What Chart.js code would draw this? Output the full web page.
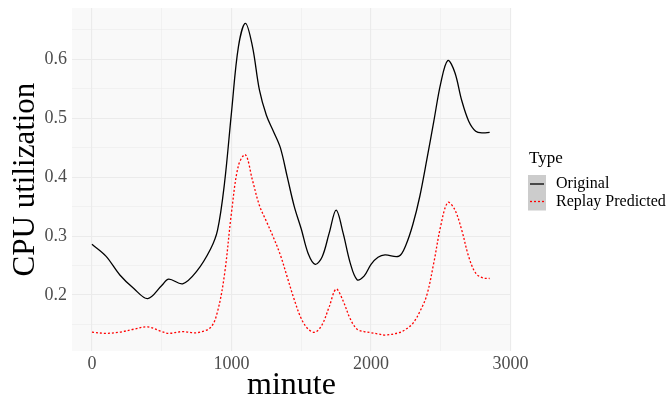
<!DOCTYPE html>
<html>
<head>
<meta charset="utf-8">
<script src="https://cdn.jsdelivr.net/npm/chart.js@4"></script>
<style>
  html, body { margin: 0; padding: 0; background: #fff; }
  #wrap { width: 670px; height: 400px; position: relative; }
</style>
</head>
<body>
<div id="wrap"><canvas id="cpu"></canvas></div>
<script>
const minutes = [0, 100, 200, 300, 400, 500, 550, 650, 750, 850, 900, 950, 1000, 1050, 1100, 1150, 1200, 1250, 1300, 1350, 1400, 1450, 1500, 1550, 1600, 1650, 1700, 1750, 1800, 1850, 1900, 1950, 2000, 2050, 2100, 2200, 2250, 2300, 2350, 2400, 2450, 2500, 2550, 2600, 2650, 2700, 2750, 2800, 2850];
const original = [0.286, 0.266, 0.234, 0.211, 0.194, 0.216, 0.227, 0.219, 0.240, 0.278, 0.310, 0.390, 0.510, 0.622, 0.661, 0.622, 0.548, 0.505, 0.478, 0.450, 0.400, 0.350, 0.312, 0.270, 0.252, 0.265, 0.305, 0.344, 0.305, 0.255, 0.226, 0.232, 0.252, 0.264, 0.268, 0.266, 0.285, 0.320, 0.368, 0.430, 0.495, 0.560, 0.598, 0.578, 0.530, 0.495, 0.478, 0.475, 0.476];
const replayPredicted = [0.137, 0.135, 0.137, 0.142, 0.146, 0.138, 0.135, 0.138, 0.136, 0.145, 0.172, 0.235, 0.340, 0.420, 0.438, 0.395, 0.352, 0.325, 0.298, 0.268, 0.230, 0.192, 0.160, 0.142, 0.137, 0.150, 0.180, 0.210, 0.190, 0.160, 0.142, 0.138, 0.136, 0.134, 0.132, 0.136, 0.142, 0.152, 0.172, 0.200, 0.255, 0.318, 0.357, 0.345, 0.310, 0.265, 0.237, 0.229, 0.228];
const xTicks = [0, 500, 1000, 1500, 2000, 2500, 3000];
const yTicks = [0.15, 0.2, 0.25, 0.3, 0.35, 0.4, 0.45, 0.5, 0.55, 0.6, 0.65];
const seriesNames = ['Original', 'Replay Predicted'];

const SERIF = '"Liberation Serif", "DejaVu Serif", serif';
const isMajorX = v => v % 1000 === 0;
const isMajorY = v => Math.round(v * 100) % 10 === 0;

const panelBg = {
  id: 'panelBg',
  beforeDraw(chart) {
    const { ctx, chartArea: a } = chart;
    ctx.save();
    ctx.fillStyle = '#f9f9f9';
    ctx.fillRect(a.left, a.top, a.right - a.left, a.bottom - a.top);
    ctx.restore();
  }
};

const ggLegend = {
  id: 'ggLegend',
  afterDraw(chart) {
    const ctx = chart.ctx;
    ctx.save();
    ctx.fillStyle = '#000';
    ctx.font = '17px ' + SERIF;
    ctx.textBaseline = 'alphabetic';
    ctx.fillText('Type', 529, 163);
    ctx.fillStyle = '#cccccc';
    ctx.fillRect(528, 175, 18, 35.5);
    ctx.lineWidth = 1.3;
    ctx.strokeStyle = '#000';
    ctx.beginPath(); ctx.moveTo(530, 184); ctx.lineTo(544, 184); ctx.stroke();
    ctx.strokeStyle = '#ff0000';
    ctx.setLineDash([2, 2]);
    ctx.beginPath(); ctx.moveTo(530, 201.5); ctx.lineTo(544, 201.5); ctx.stroke();
    ctx.setLineDash([]);
    ctx.fillStyle = '#000';
    ctx.font = '16px ' + SERIF;
    ctx.fillText(seriesNames[0], 556, 188);
    ctx.fillText(seriesNames[1], 556, 206);
    ctx.restore();
  }
};

new Chart(document.getElementById('cpu'), {
  type: 'line',
  data: {
    labels: minutes,
    datasets: [
      {
        label: seriesNames[0],
        data: minutes.map((m, i) => ({ x: m, y: original[i] })),
        borderColor: '#000000',
        borderWidth: 1.3,
        pointRadius: 0,
        tension: 0.35,
        fill: false
      },
      {
        label: seriesNames[1],
        data: minutes.map((m, i) => ({ x: m, y: replayPredicted[i] })),
        borderColor: '#ff0000',
        borderWidth: 1.3,
        borderDash: [2, 2],
        pointRadius: 0,
        tension: 0.35,
        fill: false
      }
    ]
  },
  options: {
    responsive: true, maintainAspectRatio: false,
    animation: false,
    layout: { padding: { top: 8, right: 159, left: 0, bottom: 0 } },
    plugins: { legend: { display: false }, tooltip: { enabled: false } },
    scales: {
      x: {
        type: 'linear',
        min: -143, max: 3003,
        afterBuildTicks: s => { s.ticks = xTicks.map(v => ({ value: v })); },
        afterFit: s => { s.height = 49; s.paddingLeft = 0; s.paddingRight = 0; },
        border: { display: false },
        grid: {
          drawTicks: false,
          color: '#ebebeb',
          lineWidth: c => isMajorX(c.tick.value) ? 1.1 : 0.6
        },
        ticks: {
          padding: 2,
          maxRotation: 0,
          color: '#4d4d4d',
          font: { family: SERIF, size: 18 },
          callback: v => isMajorX(v) ? String(v) : ''
        },
        title: {
          display: true,
          text: 'minute',
          color: '#000',
          font: { family: SERIF, size: 32, lineHeight: 0.9 },
          padding: { top: 0, bottom: 0 }
        }
      },
      y: {
        min: 0.105, max: 0.687,
        afterBuildTicks: s => { s.ticks = yTicks.map(v => ({ value: v })); },
        afterFit: s => { s.width = 72; s.paddingTop = 0; s.paddingBottom = 0; },
        border: { display: false },
        grid: {
          drawTicks: false,
          color: '#ebebeb',
          lineWidth: c => isMajorY(c.tick.value) ? 1.1 : 0.6
        },
        ticks: {
          padding: 5,
          color: '#4d4d4d',
          font: { family: SERIF, size: 18 },
          callback: v => isMajorY(v) ? v.toFixed(1) : ''
        },
        title: {
          display: true,
          text: 'CPU utilization',
          color: '#000',
          font: { family: SERIF, size: 31 },
          padding: { top: 7, bottom: 0 }
        }
      }
    }
  },
  plugins: [panelBg, ggLegend]
});
</script>
</body>
</html>
